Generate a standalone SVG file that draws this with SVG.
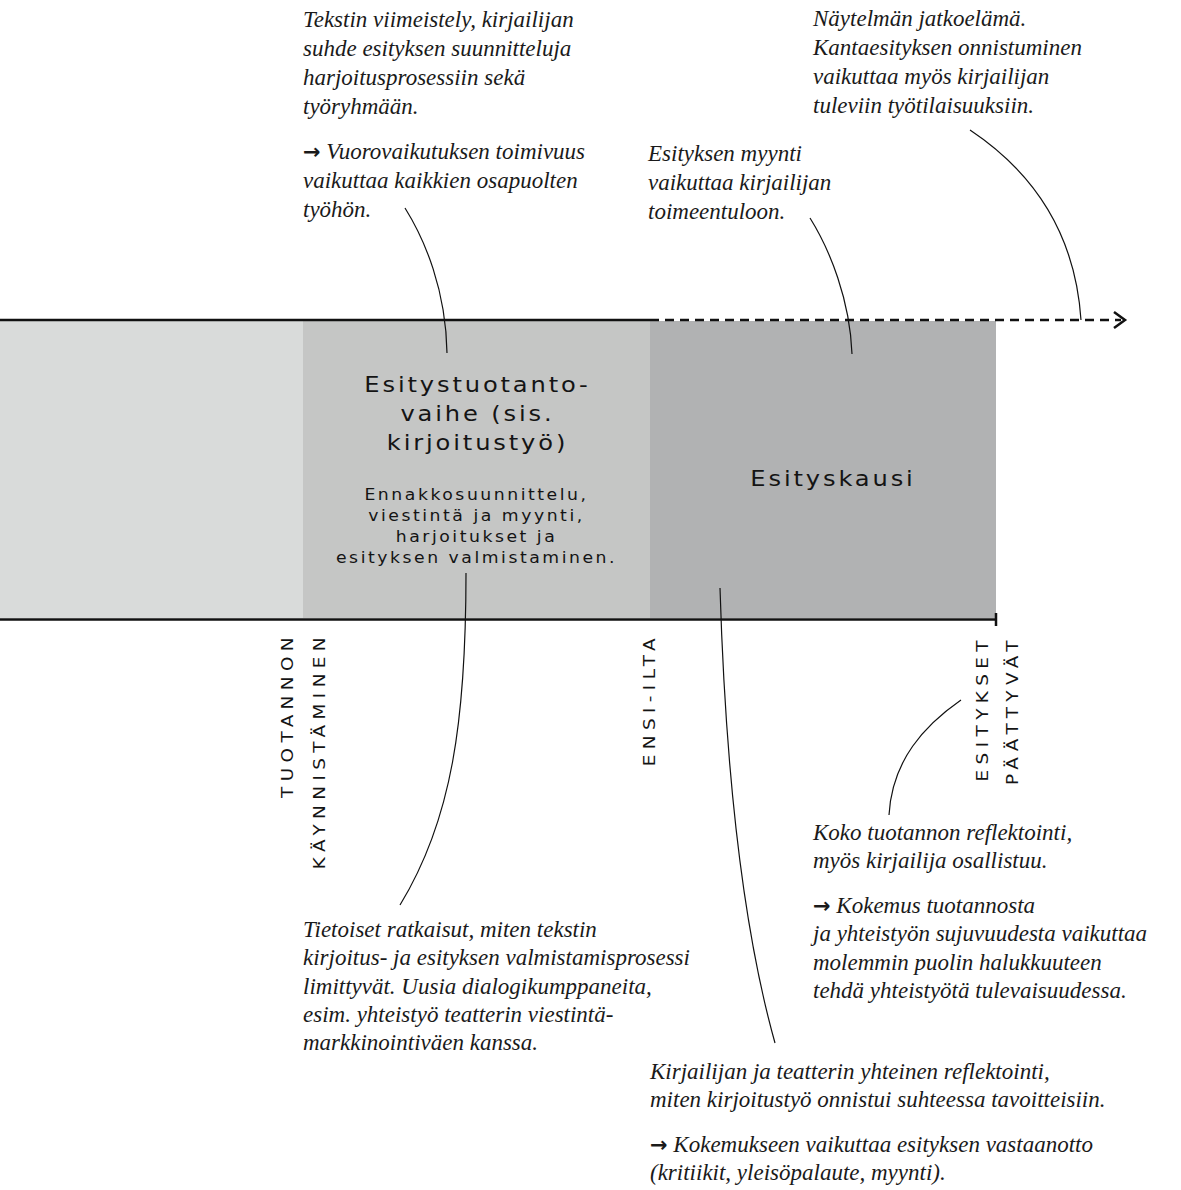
<svg xmlns="http://www.w3.org/2000/svg" width="1181" height="1190" viewBox="0 0 1181 1190">
  <style>
    .note { font-family: "Liberation Serif", "Times New Roman", serif; font-style: italic; font-size: 23px; fill: #1a1a1a; }
    .arr { font-family: "DejaVu Sans", sans-serif; font-style: normal; font-weight: bold; font-size: 21px; }
    .sans { font-family: "DejaVu Sans", "Liberation Sans", sans-serif; fill: #141414; }
    .title { font-size: 21px; letter-spacing: 2.5px; text-anchor: middle; }
    .body { font-size: 15px; letter-spacing: 2.2px; text-anchor: middle; }
    .mile { font-size: 16px; letter-spacing: 4.7px; text-anchor: end; }
    .axis { stroke: #111; stroke-width: 2.5; fill: none; }
    .conn { stroke: #111; stroke-width: 1.2; fill: none; }
  </style>

  <g id="phase-pre">
    <rect x="0" y="321" width="303" height="297" fill="#d9dbda"/>
  </g>
  <g id="phase-production" class="sans">
    <rect x="303" y="321" width="347" height="297" fill="#c5c6c5"/>
    <text class="title" transform="translate(477.5,392) scale(1.15,1)">Esitystuotanto-</text>
    <text class="title" transform="translate(477.5,421) scale(1.15,1)">vaihe (sis.</text>
    <text class="title" transform="translate(477.5,450) scale(1.15,1)">kirjoitustyö)</text>
    <text class="body" transform="translate(476.5,500) scale(1.15,1)">Ennakkosuunnittelu,</text>
    <text class="body" transform="translate(476.5,521) scale(1.15,1)">viestintä ja myynti,</text>
    <text class="body" transform="translate(476.5,542) scale(1.15,1)">harjoitukset ja</text>
    <text class="body" transform="translate(476.5,563) scale(1.15,1)">esityksen valmistaminen.</text>
  </g>
  <g id="phase-season" class="sans">
    <rect x="650" y="321" width="346" height="297" fill="#b1b2b3"/>
    <text class="title" transform="translate(833,486) scale(1.15,1)">Esityskausi</text>
  </g>

  <g id="axes">
    <line class="axis" x1="0" y1="320" x2="650" y2="320"/>
    <line class="axis" x1="650" y1="320" x2="1121" y2="320" stroke-dasharray="9 6"/>
    <polyline class="axis" points="1114,312 1125,320 1114,328"/>
    <line class="axis" x1="0" y1="619.5" x2="996" y2="619.5"/>
    <line class="axis" x1="996" y1="613" x2="996" y2="626"/>
  </g>

  <g id="milestones" class="sans">
    <text class="mile" transform="translate(293,632) rotate(-90) scale(1.15,1)">TUOTANNON</text>
    <text class="mile" transform="translate(325,632) rotate(-90) scale(1.15,1)">KÄYNNISTÄMINEN</text>
    <text class="mile" transform="translate(655,633) rotate(-90) scale(1.15,1)">ENSI-ILTA</text>
    <text class="mile" transform="translate(988,635) rotate(-90) scale(1.15,1)">ESITYKSET</text>
    <text class="mile" transform="translate(1018,635) rotate(-90) scale(1.15,1)">PÄÄTTYVÄT</text>
  </g>

  <g id="note-finishing">
    <text class="note" x="303" y="27">Tekstin viimeistely, kirjailijan</text>
    <text class="note" x="303" y="56">suhde esityksen suunnitteluja</text>
    <text class="note" x="303" y="85">harjoitusprosessiin sekä</text>
    <text class="note" x="303" y="114">työryhmään.</text>
    <text class="note" x="303" y="159"><tspan class="arr">→</tspan> Vuorovaikutuksen toimivuus</text>
    <text class="note" x="303" y="188">vaikuttaa kaikkien osapuolten</text>
    <text class="note" x="303" y="217">työhön.</text>
  </g>
  <g id="note-afterlife">
    <text class="note" x="813" y="26">Näytelmän jatkoelämä.</text>
    <text class="note" x="813" y="55">Kantaesityksen onnistuminen</text>
    <text class="note" x="813" y="84">vaikuttaa myös kirjailijan</text>
    <text class="note" x="813" y="113">tuleviin työtilaisuuksiin.</text>
  </g>
  <g id="note-sales">
    <text class="note" x="648" y="161">Esityksen myynti</text>
    <text class="note" x="648" y="190">vaikuttaa kirjailijan</text>
    <text class="note" x="648" y="219">toimeentuloon.</text>
  </g>
  <g id="note-decisions">
    <text class="note" x="303" y="937">Tietoiset ratkaisut, miten tekstin</text>
    <text class="note" x="303" y="965">kirjoitus- ja esityksen valmistamisprosessi</text>
    <text class="note" x="303" y="994">limittyvät. Uusia dialogikumppaneita,</text>
    <text class="note" x="303" y="1022">esim. yhteistyö teatterin viestintä-</text>
    <text class="note" x="303" y="1050">markkinointiväen kanssa.</text>
  </g>
  <g id="note-production-reflection">
    <text class="note" x="813" y="840">Koko tuotannon reflektointi,</text>
    <text class="note" x="813" y="868">myös kirjailija osallistuu.</text>
    <text class="note" x="813" y="913"><tspan class="arr">→</tspan> Kokemus tuotannosta</text>
    <text class="note" x="813" y="941">ja yhteistyön sujuvuudesta vaikuttaa</text>
    <text class="note" x="813" y="970">molemmin puolin halukkuuteen</text>
    <text class="note" x="813" y="998">tehdä yhteistyötä tulevaisuudessa.</text>
  </g>
  <g id="note-joint-reflection">
    <text class="note" x="650" y="1079">Kirjailijan ja teatterin yhteinen reflektointi,</text>
    <text class="note" x="650" y="1107">miten kirjoitustyö onnistui suhteessa tavoitteisiin.</text>
    <text class="note" x="650" y="1152"><tspan class="arr">→</tspan> Kokemukseen vaikuttaa esityksen vastaanotto</text>
    <text class="note" x="650" y="1180">(kritiikit, yleisöpalaute, myynti).</text>
  </g>

  <g id="connectors">
    <path class="conn" d="M405,208 C425,240 446,290 447,353"/>
    <path class="conn" d="M810,218 C830,250 850,300 852,354"/>
    <path class="conn" d="M970,130 C1030,170 1075,230 1081,320"/>
    <path class="conn" d="M466,573 C466,720 452,820 400,905"/>
    <path class="conn" d="M720,588 C724,720 735,900 775,1043"/>
    <path class="conn" d="M961,700 C925,725 892,760 889,815"/>
  </g>
</svg>
